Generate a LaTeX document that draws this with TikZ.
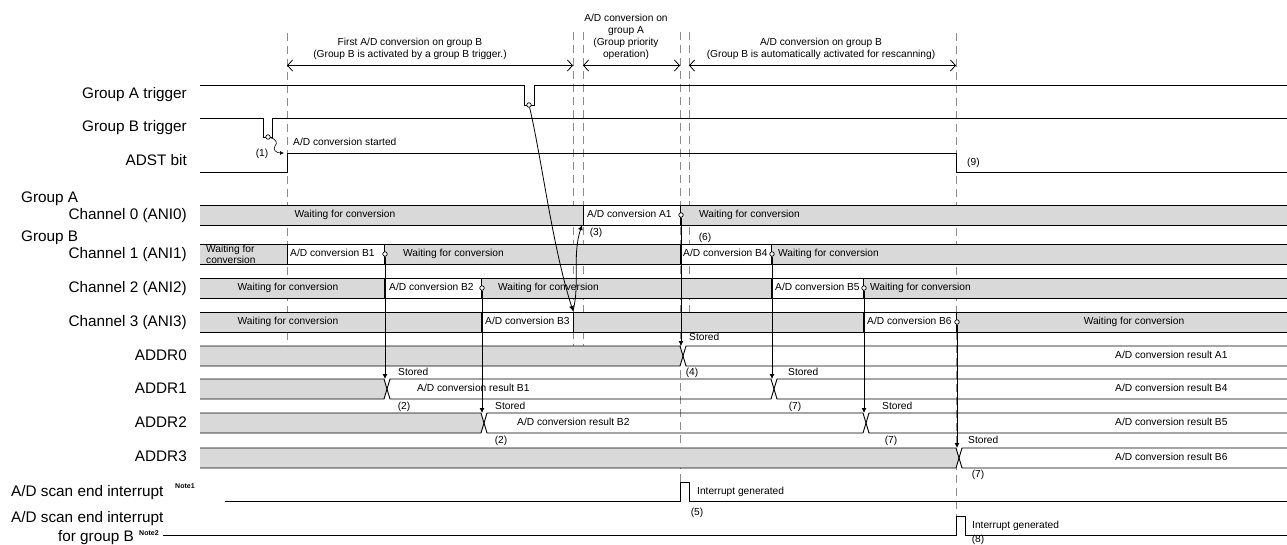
\documentclass[tikz,border=0pt]{standalone}
\usepackage{fontspec}
\setmainfont{Liberation Sans}
\usetikzlibrary{arrows.meta}
\definecolor{bargray}{RGB}{217,217,217}
\definecolor{dashgray}{RGB}{140,140,140}
\newcommand\tdlines[2]{\draw[bord] (200,#1) -- (1287,#1); \draw[bord] (200,#2) -- (1287,#2);}
\begin{document}
\begin{tikzpicture}[x=1pt,y=-1pt,
  big/.style={font=\fontsize{15.3}{17}\selectfont, inner sep=0pt},
  sm/.style={font=\fontsize{10.2}{12}\selectfont, inner sep=0pt},
  note/.style={font=\fontsize{7}{8}\selectfont\bfseries, inner sep=0pt},
  wave/.style={line width=0.9pt},
  bord/.style={line width=0.9pt},
  vdash/.style={draw=dashgray, line width=0.8pt, dash pattern=on 8pt off 5pt},
  hdr/.style={line width=0.8pt, {Straight Barb[length=5pt,width=11pt]}-{Straight Barb[length=5pt,width=11pt]}},
  tip/.style={line width=0.8pt, -{Latex[length=5pt,width=5pt]}},
  dot/.style={circle, draw, line width=0.7pt, fill=white, inner sep=0pt, minimum size=4.5pt},
  wbox/.style={draw, fill=white, line width=0.9pt},
]
\useasboundingbox (0,0) rectangle (1287,544);

% ---------- dashed guide lines ----------
\draw[vdash] (287,33) -- (287,345);
\draw[vdash] (573,32) -- (573,346);
\draw[vdash] (583,32) -- (583,346);
\draw[vdash] (680,32) -- (680,482);
\draw[vdash] (689,32) -- (689,332);
\draw[vdash] (956,33) -- (956,516);

% ---------- header arrows and texts ----------
\coordinate (h1a) at (287,65.5); \coordinate (h1b) at (573,65.5);
\coordinate (h2a) at (583,65.5); \coordinate (h2b) at (680,65.5);
\coordinate (h3a) at (689,65.5); \coordinate (h3b) at (956,65.5);
\draw[hdr] (h1a) -- (h1b);
\draw[hdr] (h2a) -- (h2b);
\draw[hdr] (h3a) -- (h3b);
\node[sm, anchor=mid] (t1a) at (410,43) {First A/D conversion on group B};
\node[sm, anchor=mid] (t1b) at (410,55) {(Group B is activated by a group B trigger.)};
\node[sm, anchor=mid] (t2a) at (626,19) {A/D conversion on};
\node[sm, anchor=mid] (t2b) at (626,31) {group A};
\node[sm, anchor=mid] (t2c) at (626,43) {(Group priority};
\node[sm, anchor=mid] (t2d) at (626,55) {operation)};
\node[sm, anchor=mid] (t3a) at (821,43) {A/D conversion on group B};
\node[sm, anchor=mid] (t3b) at (821,55) {(Group B is automatically activated for rescanning)};

% ---------- left labels ----------
\node[big, anchor=mid east] (lga) at (187,95.5) {Group A trigger};
\node[big, anchor=mid east] (lgb) at (187,128.5) {Group B trigger};
\node[big, anchor=mid east] (lad) at (187,162.5) {ADST bit};
\node[big, anchor=mid west] (lgrA) at (21,199.5) {Group A};
\node[big, anchor=mid east] (lc0) at (187,216.5) {Channel 0 (ANI0)};
\node[big, anchor=mid west] (lgrB) at (21,239) {Group B};
\node[big, anchor=mid east] (lc1) at (187,255.5) {Channel 1 (ANI1)};
\node[big, anchor=mid east] (lc2) at (187,289.5) {Channel 2 (ANI2)};
\node[big, anchor=mid east] (lc3) at (187,323.5) {Channel 3 (ANI3)};
\node[big, anchor=mid east] (la0) at (187,357.5) {ADDR0};
\node[big, anchor=mid east] (la1) at (187,390.5) {ADDR1};
\node[big, anchor=mid east] (la2) at (187,424.5) {ADDR2};
\node[big, anchor=mid east] (la3) at (187,459) {ADDR3};
\node[big, anchor=mid west] (li1) at (11,494) {A/D scan end interrupt};
\node[note, anchor=mid west] (n1) at (175,486) {Note1};
\node[big, anchor=mid west] (li2) at (11,520) {A/D scan end interrupt};
\node[big, anchor=mid east] (li2b) at (134,539) {for group B};
\node[note, anchor=mid west] (n2) at (139,533) {Note2};

% ---------- trigger / ADST waveforms ----------
\draw[wave] (200,85) -- (524,85) -- (524,105) -- (534,105) -- (534,85) -- (1287,85);
\draw[wave] (200,118) -- (263,118) -- (263,137) -- (272,137) -- (272,118) -- (1287,118);
\draw[wave] (200,172) -- (287,172) -- (287,153) -- (956,153) -- (956,172) -- (1287,172);
\node[sm, anchor=mid west] (adstart) at (293,143) {A/D conversion started};
\node[sm, anchor=mid] (m1) at (262,154) {(1)};
\node[sm, anchor=mid west] (m9) at (967,163) {(9)};

% ---------- channel 0 ----------
\fill[bargray] (200,205) rectangle (1287,225);
\draw[wbox] (583,205) rectangle (680,225);
\tdlines{205}{225}
\node[sm, anchor=mid] at (345,215) {Waiting for conversion};
\node[sm, anchor=mid west] at (587,215) {A/D conversion A1};
\node[sm, anchor=mid west] at (699,215) {Waiting for conversion};

% ---------- channel 1 ----------
\fill[bargray] (200,244) rectangle (1287,264);
\draw[wbox] (287,244) rectangle (384,264);
\draw[wbox] (680,244) rectangle (771,264);
\tdlines{244}{264}
\node[anchor=west, inner sep=0pt, align=left, font=\fontsize{10.2}{8.6}\selectfont] at (206,254.5) {Waiting for\\conversion};
\node[sm, anchor=mid west] at (290,254) {A/D conversion B1};
\node[sm, anchor=mid west] at (403,254) {Waiting for conversion};
\node[sm, anchor=mid west] at (683,254) {A/D conversion B4};
\node[sm, anchor=mid west] at (778,254) {Waiting for conversion};

% ---------- channel 2 ----------
\fill[bargray] (200,278) rectangle (1287,298);
\draw[wbox] (384,278) rectangle (481,298);
\draw[wbox] (771,278) rectangle (863,298);
\tdlines{278}{298}
\node[sm, anchor=mid] at (288,288) {Waiting for conversion};
\node[sm, anchor=mid west] at (389,288) {A/D conversion B2};
\node[sm, anchor=mid west] at (498,288) {Waiting for conversion};
\node[sm, anchor=mid west] at (775,288) {A/D conversion B5};
\node[sm, anchor=mid west] at (870,288) {Waiting for conversion};

% ---------- channel 3 ----------
\fill[bargray] (200,312) rectangle (1287,332);
\draw[wbox] (481,312) rectangle (573,332);
\draw[wbox] (863,312) rectangle (956,332);
\tdlines{312}{332}
\node[sm, anchor=mid] at (288,322) {Waiting for conversion};
\node[sm, anchor=mid west] at (485,322) {A/D conversion B3};
\node[sm, anchor=mid west] at (867,322) {A/D conversion B6};
\node[sm, anchor=mid] at (1134,322) {Waiting for conversion};

% ---------- ADDR0 ----------
\fill[bargray] (200,346) -- (680,346) -- (683,356) -- (680,366) -- (200,366) -- cycle;
\draw[bord] (200,346) -- (680,346) -- (686,366) -- (1287,366);
\draw[bord] (200,366) -- (680,366) -- (686,346) -- (1287,346);
\node[sm, anchor=mid west] at (1115,356) {A/D conversion result A1};
\node[sm, anchor=mid west] at (689,338) {Stored};
\node[sm, anchor=mid] at (692,373) {(4)};

% ---------- ADDR1 ----------
\fill[bargray] (200,379) -- (384,379) -- (387,389) -- (384,399) -- (200,399) -- cycle;
\draw[bord] (200,379) -- (384,379) -- (390,399) -- (771,399) -- (777,379) -- (1287,379);
\draw[bord] (200,399) -- (384,399) -- (390,379) -- (771,379) -- (777,399) -- (1287,399);
\node[sm, anchor=mid west] at (417,389) {A/D conversion result B1};
\node[sm, anchor=mid west] at (1115,389) {A/D conversion result B4};
\node[sm, anchor=mid west] at (398,373) {Stored};
\node[sm, anchor=mid] at (404,407) {(2)};
\node[sm, anchor=mid west] at (788,373) {Stored};
\node[sm, anchor=mid] at (795,407) {(7)};

% ---------- ADDR2 ----------
\fill[bargray] (200,413) -- (481,413) -- (484,423) -- (481,433) -- (200,433) -- cycle;
\draw[bord] (200,413) -- (481,413) -- (487,433) -- (863,433) -- (869,413) -- (1287,413);
\draw[bord] (200,433) -- (481,433) -- (487,413) -- (863,413) -- (869,433) -- (1287,433);
\node[sm, anchor=mid west] at (517,423) {A/D conversion result B2};
\node[sm, anchor=mid west] at (1115,423) {A/D conversion result B5};
\node[sm, anchor=mid west] at (495,407) {Stored};
\node[sm, anchor=mid] at (501,441) {(2)};
\node[sm, anchor=mid west] at (882,407) {Stored};
\node[sm, anchor=mid] at (891,441) {(7)};

% ---------- ADDR3 ----------
\fill[bargray] (200,448) -- (956,448) -- (959,458) -- (956,468) -- (200,468) -- cycle;
\draw[bord] (200,448) -- (956,448) -- (962,468) -- (1287,468);
\draw[bord] (200,468) -- (956,468) -- (962,448) -- (1287,448);
\node[sm, anchor=mid west] at (1115,458) {A/D conversion result B6};
\node[sm, anchor=mid west] at (968,441) {Stored};
\node[sm, anchor=mid] at (978,475) {(7)};

% ---------- interrupts ----------
\draw[wave] (225,501) -- (680,501) -- (680,482) -- (689,482) -- (689,501) -- (1287,501);
\draw[wave] (163,535) -- (956,535) -- (956,516) -- (965,516) -- (965,535) -- (1287,535);
\node[sm, anchor=mid west] at (697,492) {Interrupt generated};
\node[sm, anchor=mid] at (697,513) {(5)};
\node[sm, anchor=mid west] at (972,526) {Interrupt generated};
\node[sm, anchor=mid] at (978,539.5) {(8)};

% ---------- event dots ----------
\node[dot] (ga) at (529,105) {};
\node[dot] (gb) at (268,137) {};
\node[dot] (a1) at (681,215) {};
\node[dot] (b1) at (385,254) {};
\node[dot] (b4) at (772,254) {};
\node[dot] (b2) at (482,288) {};
\node[dot] (b5) at (864,288) {};
\node[dot] (b6) at (957,322) {};

\coordinate (adst) at (284,153);
\coordinate (b3e) at (573,311);
\coordinate (a1s) at (582,225);
\coordinate (ad0) at (681,346);
\coordinate (ad1a) at (385,379);
\coordinate (ad1b) at (772,379);
\coordinate (ad2a) at (482,413);
\coordinate (ad2b) at (864,413);
\coordinate (ad3) at (957,448);

% ---------- connectors ----------
\draw[line width=0.6pt, -{Latex[length=4pt,width=4pt]}] (gb) .. controls (276,139) and (278,143) .. (275,146) .. controls (272,150) and (277,153) .. (adst);
\draw[tip] (ga) .. controls (542,160) and (552,245) .. (b3e);
\draw[tip] (b3e) .. controls (580,285) and (572,255) .. (a1s);
\node[sm, anchor=mid] at (596,233) {(3)};
\node[sm, anchor=mid] at (705,238) {(6)};
\draw[tip] (a1) -- (ad0);
\draw[tip] (b1) -- (ad1a);
\draw[tip] (b4) -- (ad1b);
\draw[tip] (b2) -- (ad2a);
\draw[tip] (b5) -- (ad2b);
\draw[tip] (b6) -- (ad3);
\end{tikzpicture}
\end{document}
